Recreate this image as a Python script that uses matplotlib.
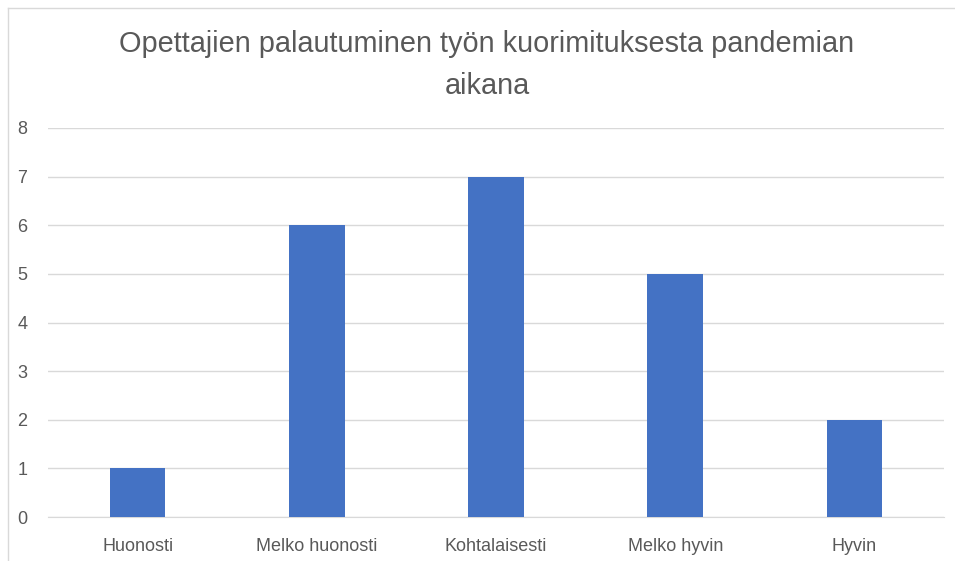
import matplotlib.pyplot as plt
from matplotlib.lines import Line2D

# Data
categories = ["Huonosti", "Melko huonosti", "Kohtalaisesti", "Melko hyvin", "Hyvin"]
counts = [1, 6, 7, 5, 2]
y_ticks = [0, 1, 2, 3, 4, 5, 6, 7, 8]
title = "Opettajien palautuminen työn kuorimituksesta pandemian\naikana"

BAR_COLOR = "#4472C4"
GRID_COLOR = "#D9D9D9"
TEXT_COLOR = "#595959"

plt.rcParams["font.family"] = ["Liberation Sans", "DejaVu Sans"]

fig = plt.figure(figsize=(9.55, 5.61), dpi=100)
ax = fig.add_axes([48 / 955, 1 - 517 / 561, 896 / 955, 389 / 561])

x = list(range(len(categories)))
ax.bar(x, counts, width=0.31, color=BAR_COLOR, zorder=3)

ax.set_xlim(-0.5, len(categories) - 0.5)
ax.set_ylim(0, 8)
ax.set_yticks(y_ticks)
ax.set_xticks(x)
ax.set_xticklabels(categories)

ax.grid(axis="y", color=GRID_COLOR, linewidth=1, zorder=0)
for side in ["top", "right", "left"]:
    ax.spines[side].set_visible(False)
ax.spines["bottom"].set_color(GRID_COLOR)
ax.tick_params(axis="both", length=0, colors=TEXT_COLOR, labelsize=13)
ax.tick_params(axis="y", pad=15)
ax.tick_params(axis="x", pad=15)

fig.text(487 / 955, 1 - 65 / 561, title, ha="center", va="center",
         fontsize=20.8, color=TEXT_COLOR, linespacing=1.65)

# chart area border (only left and top edges visible in the crop)
fig.add_artist(Line2D([7.5 / 955, 7.5 / 955], [0, 1 - 8 / 561],
                      transform=fig.transFigure, color=GRID_COLOR, linewidth=1))
fig.add_artist(Line2D([7.5 / 955, 1], [1 - 8 / 561, 1 - 8 / 561],
                      transform=fig.transFigure, color=GRID_COLOR, linewidth=1))

fig.savefig("out.png", dpi=100, facecolor="white")
